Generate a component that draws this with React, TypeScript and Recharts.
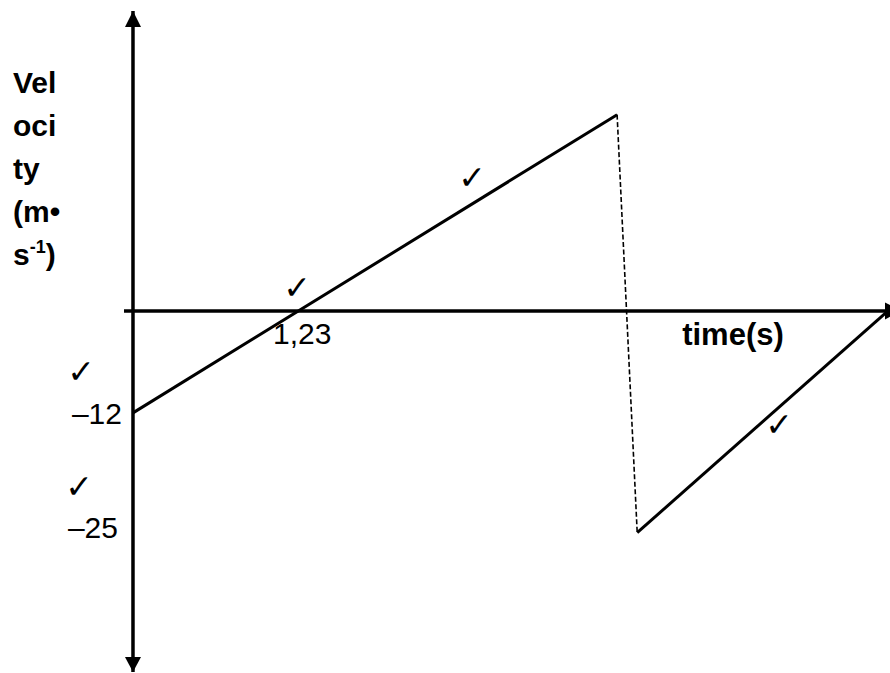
import { ComposedChart, Line, Scatter, XAxis, YAxis, ReferenceLine } from 'recharts';

// time (s) and velocity (m/s)
const riseTimes = [0, 3.61];
const riseVel = [-12, 23.1];
const dropTimes = [3.61, 3.76];
const dropVel = [23.1, -26.1];
const returnTimes = [3.76, 5.63];
const returnVel = [-26.1, 0];

// axis extent (where the arrow tips sit)
const timeDomain = [-0.067, 5.645];
const velDomain = [-42.5, 35.3];

const velTickLabels = ['–12', '–25'];
const timeTickLabels = ['1,23'];

const toPoints = (ts: number[], vs: number[]) => ts.map((t, i) => ({ t, v: vs[i] }));

const riseData = toPoints(riseTimes, riseVel);
const dropData = toPoints(dropTimes, dropVel);
const returnData = toPoints(returnTimes, returnVel);

const arrowData = [
  { t: 0, v: velDomain[1], dir: 'up' },
  { t: 0, v: velDomain[0], dir: 'down' },
  { t: timeDomain[1], v: 0, dir: 'right' },
];

const FONT = '"Liberation Sans", Arial, Helvetica, sans-serif';

function ArrowHead(props: any) {
  const { cx, cy, payload } = props;
  let pts = '';
  if (payload.dir === 'up') pts = `${cx},${cy} ${cx - 8},${cy + 16} ${cx + 8},${cy + 16}`;
  else if (payload.dir === 'down') pts = `${cx},${cy} ${cx - 8},${cy - 15} ${cx + 8},${cy - 15}`;
  else pts = `${cx + 11},${cy} ${cx - 5},${cy - 8.5} ${cx - 5},${cy + 8.5}`;
  return <polygon points={pts} fill="#000" />;
}

// tick marks (the marker's ✓), centre positions
const checks = [
  [81, 372],
  [79, 487],
  [297, 288],
  [472, 178],
  [779, 425],
];

export default function App() {
  return (
    <div style={{ position: 'absolute', left: 0, top: 0, width: 890, height: 673, background: '#fff' }}>
      <ComposedChart width={890} height={673} margin={{ top: 11, right: 0, bottom: 1, left: 124 }}>
        <XAxis type="number" dataKey="t" domain={timeDomain} hide allowDataOverflow />
        <YAxis type="number" dataKey="v" domain={velDomain} hide allowDataOverflow />
        <ReferenceLine x={0} stroke="#000" strokeWidth={3.5} />
        <ReferenceLine y={0} stroke="#000" strokeWidth={3.5} />
        <Line data={riseData} dataKey="v" stroke="#000" strokeWidth={3} dot={false} isAnimationActive={false} />
        <Line
          data={dropData}
          dataKey="v"
          stroke="#000"
          strokeWidth={1.6}
          strokeDasharray="5 2.5"
          dot={false}
          isAnimationActive={false}
        />
        <Line data={returnData} dataKey="v" stroke="#000" strokeWidth={3} dot={false} isAnimationActive={false} />
        <Scatter data={arrowData} dataKey="v" shape={<ArrowHead />} isAnimationActive={false} />
      </ComposedChart>

      <svg
        width={890}
        height={673}
        style={{ position: 'absolute', left: 0, top: 0, pointerEvents: 'none' }}
      >
        <g fontFamily={FONT} fontWeight="bold" fontSize={30} fill="#000">
          <text x={13} y={93}>Vel</text>
          <text x={13} y={136}>oci</text>
          <text x={13} y={179}>ty</text>
          <text x={13} y={222}>(m•</text>
          <text x={13} y={265}>
            s<tspan fontSize={18} dy={-12}>-1</tspan>
            <tspan dy={12}>)</tspan>
          </text>
          <text x={733} y={345} textAnchor="middle" fontSize={31}>time(s)</text>
        </g>
        <g fontFamily={FONT} fontSize={30} fill="#000">
          <text x={122} y={424} textAnchor="end">{velTickLabels[0]}</text>
          <text x={118} y={538} textAnchor="end">{velTickLabels[1]}</text>
          <text x={273} y={344}>{timeTickLabels[0]}</text>
        </g>
        <g fontFamily='"DejaVu Sans", sans-serif' fontSize={33} fill="#000">
          {checks.map(([x, y], i) => (
            <text key={i} x={x} y={y + 11} textAnchor="middle">✓</text>
          ))}
        </g>
      </svg>
    </div>
  );
}
